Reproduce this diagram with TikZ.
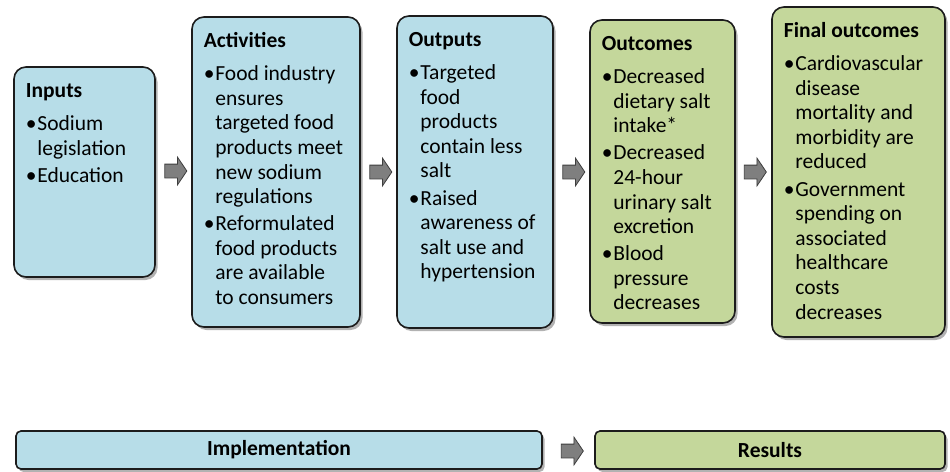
\documentclass[tikz,border=0pt]{standalone}
\usepackage{fontspec}
\setmainfont{Carlito}
\usetikzlibrary{shapes.arrows,shadows}
\definecolor{boxblue}{HTML}{B7DDE8}
\definecolor{boxgreen}{HTML}{C4D79B}
\definecolor{edgecol}{HTML}{1C1C1C}
\definecolor{arrowgray}{HTML}{7F7F7F}
\newcommand\bul{\makebox[11.5pt][l]{•}}
\newcommand\ind{\hspace*{11.5pt}}
\newcommand\hd{\rule{0pt}{15pt}}
\begin{document}
\begin{tikzpicture}[x=1pt,y=-1pt,
  box/.style={draw=edgecol, line width=1.6pt, rounded corners=12pt,
    drop shadow={shadow xshift=2.5pt, shadow yshift=-3pt, opacity=0.3, fill=black},
    inner sep=0pt},
  bluebox/.style={box, fill=boxblue},
  greenbox/.style={box, fill=boxgreen},
  barbox/.style={rounded corners=5pt, font=\fontsize{21.5}{24}\selectfont\bfseries},
  txt/.style={anchor=north west, inner sep=0pt, align=left,
    font=\fontsize{21.5}{24.6}\selectfont, text=black},
  bararrow/.style={single arrow, draw=edgecol!85, line width=0.8pt, fill=arrowgray,
    minimum height=22pt, single arrow head extend=7pt,
    single arrow tip angle=112, inner xsep=0pt, inner ysep=6.5pt}
]
\useasboundingbox[fill=white] (0,0) rectangle (950,471);

% main boxes
\node[bluebox, minimum width=141pt, minimum height=210pt] (inputs) at (84.5,172) {};
\node[bluebox, minimum width=168pt, minimum height=310pt] (activities) at (276,172) {};
\node[bluebox, minimum width=156pt, minimum height=312pt] (outputs) at (475,172) {};
\node[greenbox, minimum width=145pt, minimum height=303pt] (outcomes) at (662.5,171.5) {};
\node[greenbox, minimum width=173pt, minimum height=330pt] (final) at (858.5,172) {};

% texts
\node[txt] (inputsT) at ([shift={(12.5pt,-16pt)}]inputs.north west)
  {{\bfseries\hd Inputs}\\[8.5pt]
   \bul Sodium\\ \ind legislation\\[2.5pt]
   \bul Education};
\node[txt] (activitiesT) at ([shift={(12.5pt,-16pt)}]activities.north west)
  {{\bfseries\hd Activities}\\[8.5pt]
   \bul Food industry\\ \ind ensures\\ \ind targeted food\\ \ind products meet\\ \ind new sodium\\ \ind regulations\\[2.5pt]
   \bul Reformulated\\ \ind food products\\ \ind are available\\ \ind to consumers};
\node[txt] (outputsT) at ([shift={(12.5pt,-16pt)}]outputs.north west)
  {{\bfseries\hd Outputs}\\[8.5pt]
   \bul Targeted\\ \ind food\\ \ind products\\ \ind contain less\\ \ind salt\\[2.5pt]
   \bul Raised\\ \ind awareness of\\ \ind salt use and\\ \ind hypertension};
\node[txt] (outcomesT) at ([shift={(12.5pt,-16pt)}]outcomes.north west)
  {{\bfseries\hd Outcomes}\\[8.5pt]
   \bul Decreased\\ \ind dietary salt\\ \ind intake*\\[2.5pt]
   \bul Decreased\\ \ind 24-hour\\ \ind urinary salt\\ \ind excretion\\[2.5pt]
   \bul Blood\\ \ind pressure\\ \ind decreases};
\node[txt] (finalT) at ([shift={(12.5pt,-16pt)}]final.north west)
  {{\bfseries\hd Final outcomes}\\[8.5pt]
   \bul Cardiovascular\\ \ind disease\\ \ind mortality and\\ \ind morbidity are\\ \ind reduced\\[2.5pt]
   \bul Government\\ \ind spending on\\ \ind associated\\ \ind healthcare\\ \ind costs\\ \ind decreases};

% bottom bars
\node[bluebox, barbox, minimum width=526pt, minimum height=38pt] (impl) at (279,450) {Implementation};
\node[greenbox, barbox, minimum width=350pt, minimum height=38pt] (results) at (770,450) {Results};

% arrows
\node[bararrow] (a1) at (173.5,171) {};
\node[bararrow] (a2) at (378.5,172) {};
\node[bararrow] (a3) at (571.5,172) {};
\node[bararrow] (a4) at (753,172) {};
\node[bararrow] (a5) at (570,451) {};
\end{tikzpicture}
\end{document}
